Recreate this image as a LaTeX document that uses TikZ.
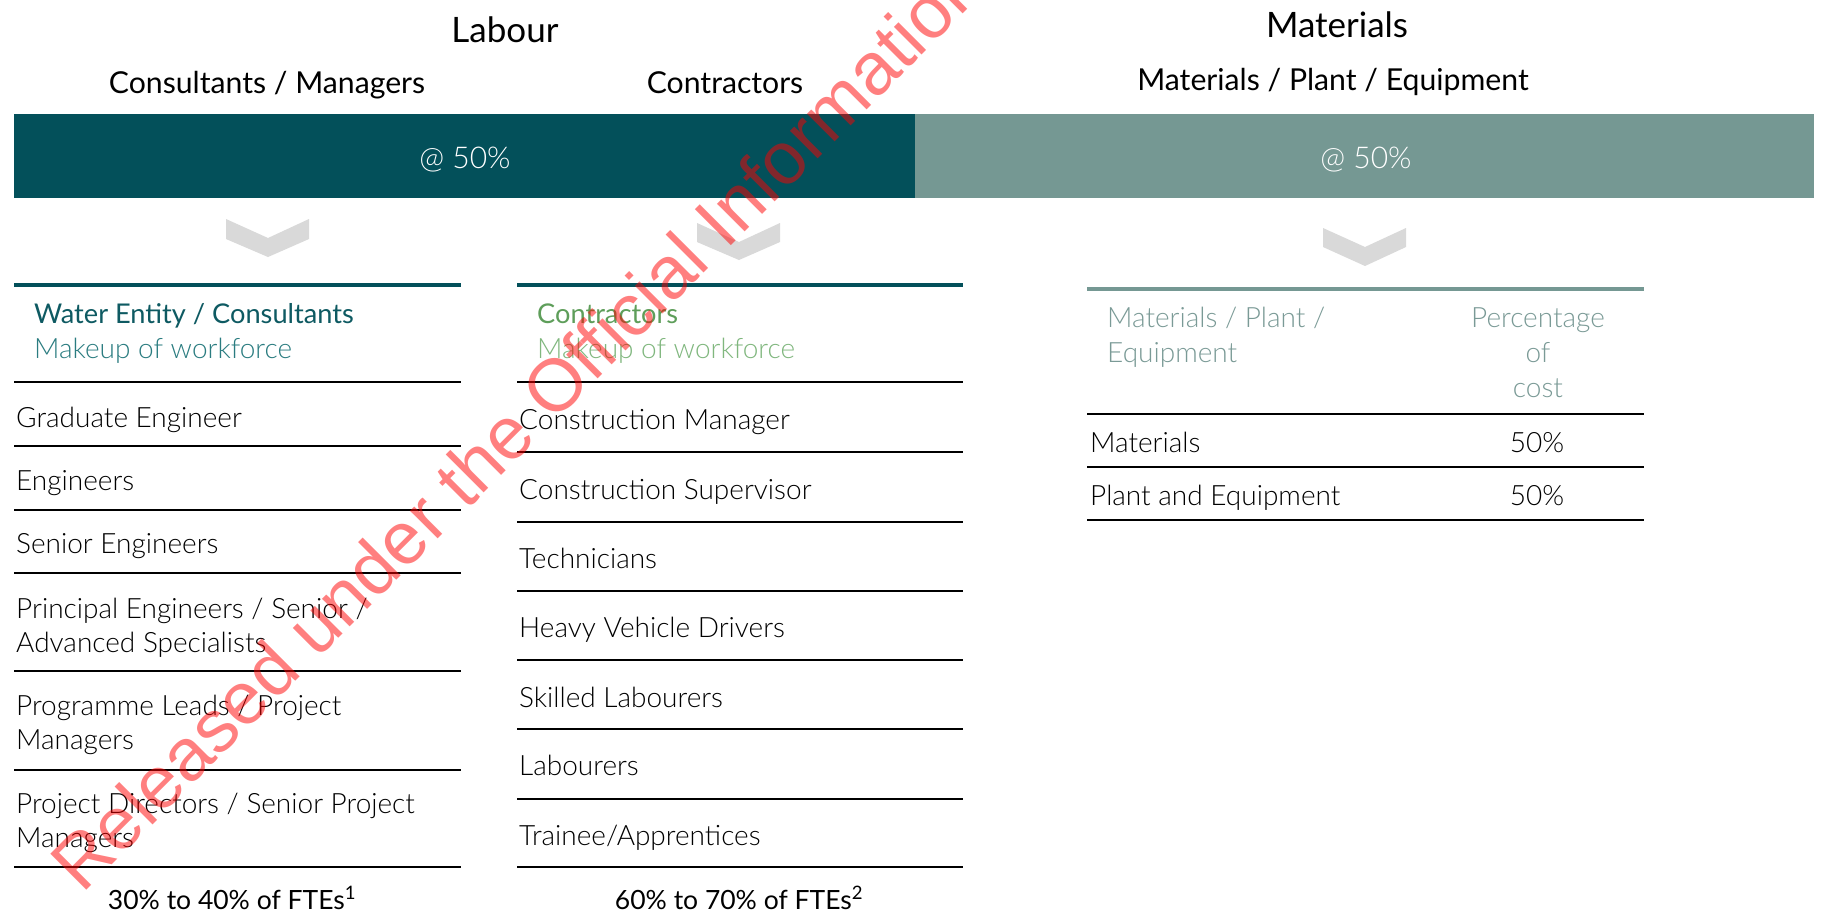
\documentclass[tikz,border=0pt]{standalone}
\usepackage{fontspec}
\setmainfont{Lato}
\newfontfamily\ltfont{Lato Light}
\newfontfamily\wmfont{Liberation Sans}
\definecolor{darkteal}{HTML}{03505A}
\definecolor{lightteal}{HTML}{759893}
\definecolor{hdrteal}{HTML}{0E5A62}
\definecolor{subteal}{HTML}{2A7C80}
\definecolor{hdrgreen}{HTML}{5E9E5A}
\definecolor{subgreen}{HTML}{80B77E}
\definecolor{mathdr}{HTML}{7A9A96}
\definecolor{chevgray}{HTML}{D9D9D9}
\newcommand\titlef{\fontsize{35}{42}\selectfont}
\newcommand\subtf{\fontsize{30.2}{36}\selectfont}
\newcommand\barf{\ltfont\fontsize{30}{36}\selectfont}
\newcommand\hdrf{\fontsize{27.2}{34}\selectfont}
\newcommand\hdrlf{\ltfont\fontsize{28}{34}\selectfont}
\newcommand\bodyf{\ltfont\fontsize{28}{34}\selectfont}
\newcommand\footf{\fontsize{26.5}{32}\selectfont}
\begin{document}
\begin{tikzpicture}[x=1pt,y=-1pt,
  txt/.style={inner sep=0pt, anchor=base west, font=\bodyf},
  ctxt/.style={inner sep=0pt, anchor=base},
  blk/.style={line width=2.6pt, black},
  tealrule/.style={line width=3.4pt, darkteal},
  lightrule/.style={line width=4pt, lightteal},
  chev/.style={fill=chevgray, draw=none},
  wm/.style={inner sep=0pt, anchor=base west, text=red, text opacity=0.5, font=\wmfont\fontsize{74}{80}\selectfont}]
\fill[white] (0,0) rectangle (1823,916);
\useasboundingbox (0,0) rectangle (1823,916);

% titles
\node[ctxt, font=\titlef] (labour) at (505,42) {Labour};
\node[ctxt, font=\subtf] (consman) at (267,93) {Consultants / Managers};
\node[ctxt, font=\subtf] (contr) at (725,93) {Contractors};
\node[ctxt, font=\titlef] (mat) at (1337,37) {Materials};
\node[ctxt, font=\subtf] (matpe) at (1333,90) {Materials / Plant / Equipment};

% bars
\fill[darkteal] (14,114) rectangle (915,198);
\fill[lightteal] (915,114) rectangle (1814,198);
\node[ctxt, font=\barf, text=white] (bar1) at (465,168) {@ 50\%};
\node[ctxt, font=\barf, text=white] (bar2) at (1366,168) {@ 50\%};

% chevrons
\fill[chev] (226,219) -- (268,238) -- (309,219) -- (309,239) -- (268,257) -- (226,239) -- cycle;
\fill[chev] (697,223) -- (739,242) -- (780,223) -- (780,242) -- (739,260) -- (697,242) -- cycle;
\fill[chev] (1323,228) -- (1365,247) -- (1406,228) -- (1406,247) -- (1365,266) -- (1323,247) -- cycle;

% table 1
\draw[tealrule] (14,285) -- (461,285);
\node[txt, font=\hdrf, text=hdrteal] (t1h) at (34,323) {Water Entity / Consultants};
\node[txt, font=\hdrlf, text=subteal] (t1s) at (34,358) {Makeup of workforce};
\foreach \y in {382,446,510,573,671,770,867} \draw[blk] (14,\y) -- (461,\y);
\node[txt] (a1) at (16,427) {Graduate Engineer};
\node[txt] (a2) at (16,490) {Engineers};
\node[txt] (a3) at (16,553) {Senior Engineers};
\node[txt] (a4a) at (16,618) {Principal Engineers / Senior /};
\node[txt] (a4b) at (16,652) {Advanced Specialists};
\node[txt] (a5a) at (16,715) {Programme Leads / Project};
\node[txt] (a5b) at (16,749) {Managers};
\node[txt] (a6a) at (16,813) {Project Directors / Senior Project};
\node[txt] (a6b) at (16,847) {Managers};
\node[ctxt, font=\footf] (f1) at (232,909) {30\% to 40\% of FTEs\textsuperscript{1}};

% table 2
\draw[tealrule] (517,285) -- (963,285);
\node[txt, font=\hdrf, text=hdrgreen] (t2h) at (537,323) {Contractors};
\node[txt, font=\hdrlf, text=subgreen] (t2s) at (537,358) {Makeup of workforce};
\foreach \y in {382,452,522,591,660,729,799,867} \draw[blk] (517,\y) -- (963,\y);
\node[txt] (b1) at (519,429) {Construction Manager};
\node[txt] (b2) at (519,499) {Construction Supervisor};
\node[txt] (b3) at (519,568) {Technicians};
\node[txt] (b4) at (519,637) {Heavy Vehicle Drivers};
\node[txt] (b5) at (519,707) {Skilled Labourers};
\node[txt] (b6) at (519,775) {Labourers};
\node[txt] (b7) at (519,845) {Trainee/Apprentices};
\node[ctxt, font=\footf] (f2) at (739,909) {60\% to 70\% of FTEs\textsuperscript{2}};

% table 3
\draw[lightrule] (1087,289) -- (1644,289);
\node[txt, font=\hdrlf, text=mathdr] (t3h1) at (1107,327) {Materials / Plant /};
\node[txt, font=\hdrlf, text=mathdr] (t3h2) at (1107,362) {Equipment};
\node[ctxt, font=\hdrlf, text=mathdr] (t3p1) at (1538,327) {Percentage};
\node[ctxt, font=\hdrlf, text=mathdr] (t3p2) at (1538,362) {of};
\node[ctxt, font=\hdrlf, text=mathdr] (t3p3) at (1538,397) {cost};
\foreach \y in {414,467,520} \draw[blk] (1087,\y) -- (1644,\y);
\node[txt] (c1) at (1090,452) {Materials};
\node[ctxt, font=\bodyf] (c1v) at (1537,452) {50\%};
\node[txt] (c2) at (1090,505) {Plant and Equipment};
\node[ctxt, font=\bodyf] (c2v) at (1537,505) {50\%};

% watermark
\begin{scope}
\clip (0,0) rectangle (1823,916);
\node[wm, rotate=45] (wmark) at (82,895) {Released under the Official Information};
\end{scope}
\end{tikzpicture}
\end{document}
